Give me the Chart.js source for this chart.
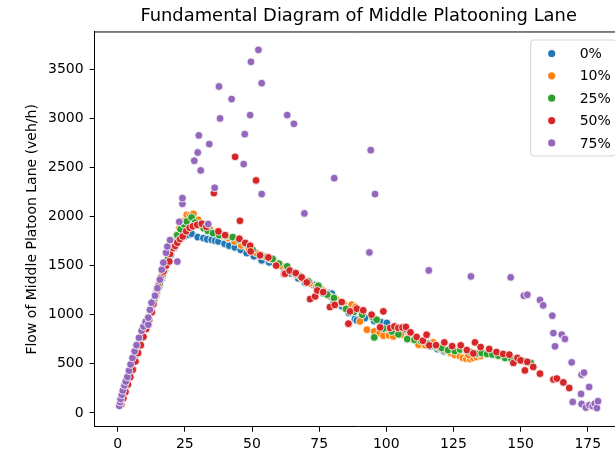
<!DOCTYPE html>
<html>
<head>
<meta charset="utf-8">
<title>Fundamental Diagram of Middle Platooning Lane</title>
<script src="https://cdn.jsdelivr.net/npm/chart.js@4.4.1/dist/chart.umd.min.js"></script>
<style>
  html, body { margin: 0; padding: 0; overflow: hidden; background: #fff; }
  canvas { display: block; }
</style>
</head>
<body>
<canvas id="fd" width="640" height="480"></canvas>
<script>
// platoon share of the middle lane
const shares = ['0%', '10%', '25%', '50%', '75%']
const colors = ['#1f77b4', '#ff7f0e', '#2ca02c', '#d62728', '#9467bd']

// [density (veh/km), flow (veh/h)] for each share
const share0 = [
  [1.2, 95], [1.8, 150], [2.6, 215], [3.4, 285], [4.3, 360], [5.2, 440], [6.2, 525], [7.2, 610],
  [8.2, 695], [9.2, 780], [10.2, 860], [11.2, 945], [12.3, 1030], [13.3, 1115], [14.4, 1200],
  [15.4, 1285], [16.5, 1370], [17.6, 1455], [18.7, 1535], [19.8, 1610], [21.0, 1680], [22.3, 1740],
  [23.6, 1780], [25.0, 1805], [26.3, 1815], [27.5, 1824], [29.8, 1790], [31.9, 1780], [33.3, 1768],
  [35.0, 1762], [36.3, 1752], [37.5, 1746], [39.8, 1722], [41.5, 1702], [43.6, 1685], [45.8, 1660],
  [48.0, 1627], [50.7, 1595], [53.6, 1553], [56.4, 1533], [59.0, 1505], [61.8, 1470], [64.5, 1420],
  [67.2, 1370], [69.7, 1329], [72.8, 1305], [76.0, 1255], [78.8, 1220], [79.7, 1214], [80.3, 1112],
  [83.5, 1085], [86.0, 1020], [88.3, 956], [89.0, 942], [92.0, 965], [95.5, 935], [98.0, 925],
  [100.2, 916], [103.0, 875], [106.0, 830], [109.4, 786], [113.8, 695], [116.5, 680], [119.0, 650],
  [121.5, 628], [123.7, 612]
]
const share10 = [
  [1.0, 100], [1.7, 160], [2.5, 225], [3.3, 295], [4.2, 370], [5.1, 450], [6.0, 530], [7.1, 620],
  [8.1, 705], [9.1, 790], [10.1, 875], [11.2, 960], [12.2, 1045], [13.3, 1130], [14.3, 1215],
  [15.4, 1300], [16.4, 1385], [17.5, 1470], [18.6, 1560], [19.7, 1650], [20.8, 1735], [21.9, 1815],
  [23.0, 1880], [24.2, 1950], [25.7, 2017], [27.0, 2010], [28.2, 2026], [30.0, 1965], [32.0, 1920],
  [34.3, 1870], [36.5, 1835], [38.7, 1803], [41.0, 1780], [43.5, 1745], [46.0, 1705], [48.8, 1672],
  [51.5, 1630], [54.0, 1598], [56.8, 1565], [59.0, 1530], [60.4, 1516], [60.7, 1499], [63.5, 1470],
  [66.2, 1410], [68.8, 1365], [71.5, 1320], [74.0, 1285], [76.5, 1245], [79.0, 1186], [81.5, 1150],
  [84.0, 1115], [87.1, 1102], [88.5, 1080], [90.2, 932], [92.8, 847], [95.5, 830], [97.5, 812],
  [98.9, 786], [101.0, 790], [102.6, 779], [105.5, 795], [108.0, 770], [110.0, 745], [112.0, 695],
  [114.5, 690], [117.5, 718], [119.5, 665], [122.0, 640], [124.0, 610], [125.5, 590], [127.4, 576],
  [128.5, 560], [129.8, 552], [131.2, 549], [132.3, 560], [133.6, 570], [135.0, 580], [134.2, 600],
  [130.5, 590]
]
const share25 = [
  [1.1, 105], [1.9, 170], [2.7, 240], [3.5, 310], [4.4, 385], [5.3, 465], [6.3, 550], [7.3, 635],
  [8.3, 720], [9.3, 805], [10.4, 890], [11.4, 975], [12.4, 1060], [13.5, 1145], [14.5, 1230],
  [15.6, 1315], [16.6, 1400], [17.7, 1485], [18.8, 1575], [19.9, 1660], [21.0, 1740], [22.2, 1810],
  [23.4, 1870], [24.6, 1920], [25.7, 1949], [27.5, 1990], [28.8, 1939], [30.5, 1915], [32.0, 1880],
  [33.5, 1854], [35.5, 1830], [37.8, 1810], [40.2, 1800], [42.8, 1790], [45.0, 1760], [47.5, 1720],
  [50.2, 1660], [53.2, 1610], [55.5, 1585], [57.7, 1567], [60.0, 1520], [62.9, 1442], [63.1, 1492],
  [65.5, 1430], [68.0, 1390], [71.0, 1340], [74.7, 1295], [76.3, 1220], [78.0, 1205], [80.5, 1170],
  [83.0, 1120], [85.0, 1058], [88.0, 1030], [91.0, 1000], [94.9, 977], [96.4, 949], [95.5, 769],
  [99.0, 860], [102.0, 830], [104.5, 800], [107.8, 752], [110.5, 745], [113.0, 730], [115.5, 705],
  [118.0, 680], [120.6, 661], [123.0, 640], [125.5, 630], [127.5, 645], [129.7, 644], [131.5, 620],
  [133.5, 605], [135.5, 610], [137.5, 600], [139.5, 595], [141.7, 583], [144.2, 559], [146.5, 555],
  [149.0, 540], [151.5, 525], [153.8, 509]
]
const share50 = [
  [1.3, 85], [2.1, 150], [2.9, 215], [3.8, 290], [4.7, 365], [5.6, 440], [6.6, 525], [7.6, 610],
  [8.6, 690], [9.6, 775], [10.6, 855], [11.7, 945], [12.7, 1025], [13.3, 1110], [14.2, 1200],
  [15.1, 1290], [16.0, 1375], [17.0, 1440], [18.0, 1500], [19.2, 1542], [19.5, 1620], [20.6, 1680],
  [21.4, 1700], [22.2, 1733], [23.2, 1770], [24.2, 1797], [25.5, 1850], [26.8, 1885], [28.0, 1900],
  [29.6, 1915], [31.3, 1926], [33.0, 1895], [35.8, 2238], [37.5, 1848], [40.0, 1810], [43.7, 2607],
  [45.3, 1773], [45.5, 1956], [47.5, 1730], [49.3, 1702], [49.5, 1644], [51.5, 2367], [53.0, 1605],
  [56.1, 1583], [59.0, 1500], [61.9, 1414], [62.3, 1417], [64.0, 1450], [66.3, 1424], [68.5, 1380],
  [70.4, 1329], [71.6, 1159], [73.5, 1186], [74.3, 1247], [76.5, 1230], [79.0, 1078], [80.8, 1100],
  [83.4, 1129], [85.9, 909], [86.5, 1034], [89.0, 1061], [91.4, 1044], [94.5, 1000], [97.7, 871],
  [98.9, 1034], [101.4, 865], [103.0, 880], [104.5, 865], [106.0, 870], [107.3, 875], [109.0, 820],
  [111.3, 773], [113.6, 735], [115.0, 796], [116.0, 688], [118.5, 690], [121.6, 718], [124.5, 680],
  [127.7, 688], [130.0, 640], [132.4, 606], [133.0, 718], [135.1, 671], [138.3, 651], [141.0, 620],
  [143.5, 600], [145.8, 593], [147.3, 509], [148.8, 560], [150.0, 535], [151.6, 433], [152.5, 520],
  [154.7, 468], [157.2, 400], [162.2, 341], [163.5, 350], [165.9, 311], [168.1, 254]
]
const share75 = [
  [0.6, 72], [0.9, 110], [1.1, 143], [1.5, 185], [1.9, 229], [2.5, 280], [3.0, 320], [3.6, 367],
  [4.2, 430], [4.8, 494], [5.5, 560], [6.3, 627], [7.0, 690], [7.9, 765], [8.9, 837], [9.6, 880],
  [10.4, 930], [11.4, 898], [11.4, 970], [12.0, 1050], [12.6, 1122], [13.9, 1193], [14.8, 1270],
  [15.7, 1357], [16.4, 1459], [17.0, 1530], [18.0, 1631], [18.5, 1694], [19.5, 1760], [22.2, 1541],
  [22.9, 1946], [24.1, 2129], [24.1, 2187], [28.5, 2567], [29.8, 2651], [30.2, 2825], [30.9, 2469],
  [33.7, 1923], [34.1, 2737], [36.1, 2292], [37.7, 3323], [38.1, 2998], [42.4, 3195], [46.9, 2533],
  [47.3, 2838], [49.3, 3032], [49.6, 3574], [52.4, 3696], [53.6, 3357], [53.6, 2228], [63.1, 3032],
  [65.6, 2943], [69.5, 2031], [80.6, 2390], [93.7, 1634], [94.2, 2675], [95.8, 2228], [115.8, 1451],
  [131.5, 1390], [146.3, 1380], [151.2, 1193], [152.5, 1203], [157.2, 1150], [158.4, 1095],
  [161.8, 990], [162.2, 813], [162.8, 678], [165.3, 797], [166.5, 753], [169.0, 515], [172.7, 390],
  [173.6, 410], [175.5, 264], [172.5, 193], [169.4, 112], [172.7, 91], [174.3, 55], [175.6, 80],
  [176.8, 70], [177.6, 95], [178.4, 50], [178.8, 120]
]
const series = [share0, share10, share25, share50, share75]

// tick positions on both axes
const xTickValues = [0, 25, 50, 75, 100, 125, 150, 175]
const yTickValues = [0, 500, 1000, 1500, 2000, 2500, 3000, 3500]

Chart.defaults.font.family = "'DejaVu Sans', sans-serif"
Chart.defaults.color = '#000'

// top/right spines plus a matplotlib-style legend box
const frame = {
  id: 'frame',
  afterDraw (chart) {
    const { ctx, chartArea: a } = chart
    ctx.save()
    ctx.strokeStyle = '#000'
    ctx.lineWidth = 1
    ctx.beginPath()
    ctx.moveTo(a.left, a.top)
    ctx.lineTo(a.right, a.top)
    ctx.lineTo(a.right, a.bottom)
    ctx.stroke()

    const right = a.right - 7
    const top = a.top + 8
    const w = 85
    const h = 116
    ctx.beginPath()
    ctx.roundRect(right - w, top, w, h, 3)
    ctx.fillStyle = 'rgba(255,255,255,0.8)'
    ctx.fill()
    ctx.strokeStyle = '#d6d6d6'
    ctx.stroke()

    ctx.font = "14px 'DejaVu Sans'"
    ctx.textBaseline = 'middle'
    ctx.textAlign = 'left'
    chart.data.datasets.forEach((ds, i) => {
      const y = top + 13.5 + i * 22.35
      ctx.beginPath()
      ctx.arc(right - 64, y, 3.6, 0, Math.PI * 2)
      ctx.fillStyle = ds.backgroundColor
      ctx.fill()
      ctx.fillStyle = '#000'
      ctx.fillText(ds.label, right - 36, y + 1)
    })
    ctx.restore()
  }
}

const fixedTicks = values => scale => {
  scale.ticks = values.map(v => ({ value: v }))
}

new Chart(document.getElementById('fd'), {
  type: 'scatter',
  data: {
    datasets: shares.map((label, i) => ({
      label: label,
      data: series[i].map(p => ({ x: p[0], y: p[1] })),
      backgroundColor: colors[i],
      borderColor: '#fff',
      borderWidth: 0.8,
      pointRadius: 3.9,
      order: shares.length - i
    }))
  },
  options: {
    responsive: false,
    animation: false,
    events: [],
    devicePixelRatio: 1,
    layout: { padding: { top: 0, right: 17.3, bottom: 0, left: 0 } },
    plugins: {
      legend: { display: false },
      tooltip: { enabled: false },
      title: {
        display: true,
        fullSize: false,
        text: 'Fundamental Diagram of Middle Platooning Lane',
        color: '#000',
        font: { size: 17.9, weight: 'normal' },
        padding: { top: 6, bottom: 4.5 }
      }
    },
    scales: {
      x: {
        type: 'linear',
        min: -8.6,
        max: 188,
        afterBuildTicks: fixedTicks(xTickValues),
        afterFit: s => { s.height = 53.3 },
        ticks: {
          maxRotation: 0,
          autoSkip: false,
          padding: 4,
          font: { size: 14 },
          callback: v => String(v)
        },
        grid: { drawOnChartArea: false, tickLength: 5, color: '#000' },
        border: { color: '#000', width: 1 }
      },
      y: {
        type: 'linear',
        min: -140,
        max: 3878,
        afterBuildTicks: fixedTicks(yTickValues),
        afterFit: s => { s.width = 94.6 },
        ticks: {
          autoSkip: false,
          padding: 6,
          font: { size: 14 },
          callback: v => String(v)
        },
        grid: { drawOnChartArea: false, tickLength: 5, color: '#000' },
        border: { color: '#000', width: 1 },
        title: {
          display: true,
          text: 'Flow of Middle Platoon Lane (veh/h)',
          color: '#000',
          font: { size: 14 },
          padding: { top: 23.6, bottom: 0 }
        }
      }
    }
  },
  plugins: [frame]
})
</script>
</body>
</html>
